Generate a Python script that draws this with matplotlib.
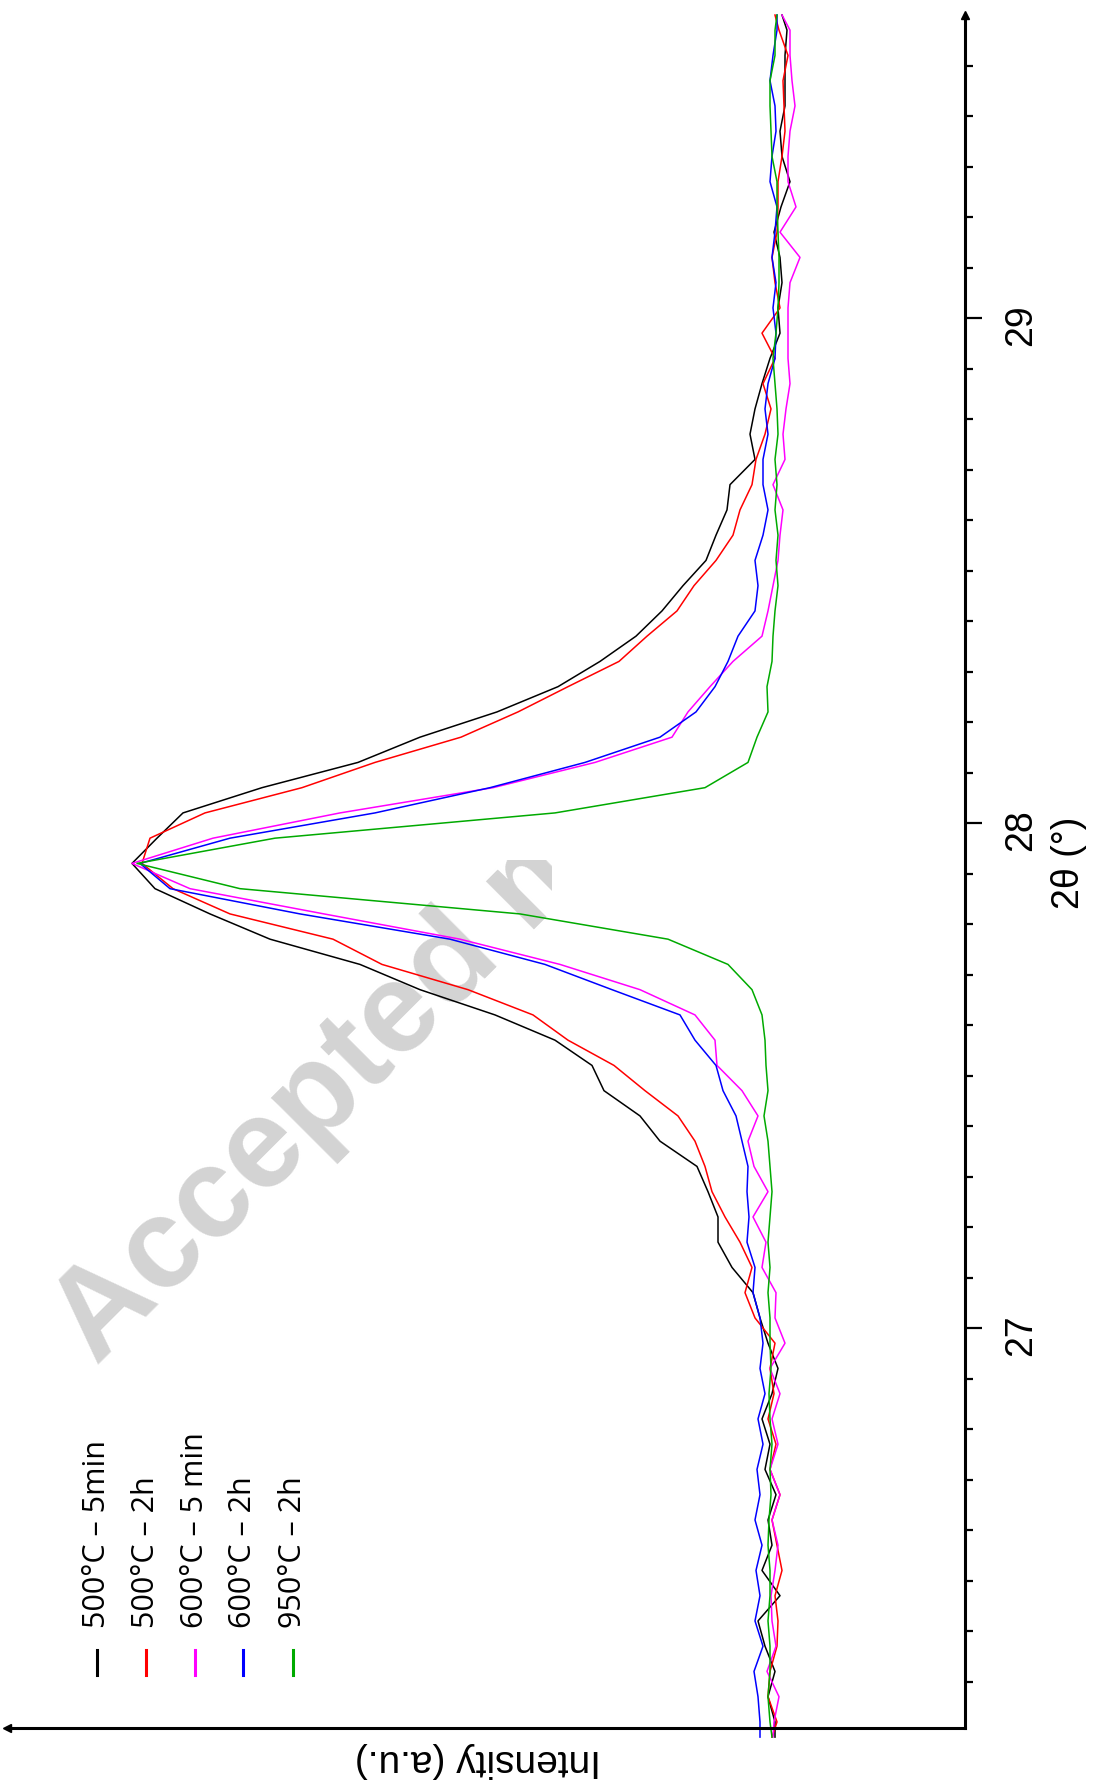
import matplotlib
matplotlib.use('Agg')
import matplotlib.pyplot as plt
from matplotlib.lines import Line2D
from matplotlib.transforms import Bbox, TransformedBbox

# 2theta sampling (deg)
theta = [26.19, 26.22, 26.27, 26.32, 26.37, 26.42, 26.47, 26.52, 26.57, 26.62,
         26.67, 26.72, 26.77, 26.82, 26.87, 26.92, 26.97, 27.02, 27.07, 27.12,
         27.17, 27.22, 27.27, 27.32, 27.37, 27.42, 27.47, 27.52, 27.57, 27.62,
         27.67, 27.72, 27.77, 27.82, 27.87, 27.92, 27.97, 28.02, 28.07, 28.12,
         28.17, 28.22, 28.27, 28.32, 28.37, 28.42, 28.47, 28.52, 28.57, 28.62,
         28.67, 28.72, 28.77, 28.82, 28.87, 28.92, 28.97, 29.02, 29.07, 29.12,
         29.17, 29.22, 29.27, 29.32, 29.37, 29.42, 29.47, 29.52, 29.57, 29.60]

i_500_5min = [190, 190, 197, 190, 200, 207, 185, 203, 193, 197,
              189, 200, 195, 203, 193, 187, 197, 205, 212, 233,
              247, 247, 257, 268, 305, 325, 361, 373, 410, 470,
              545, 605, 695, 755, 810, 833, 808, 782, 703, 607,
              545, 468, 407, 365, 329, 303, 282, 259, 249, 238,
              235, 210, 215, 210, 203, 195, 185, 187, 183, 185,
              191, 184, 175, 183, 185, 180, 180, 180, 178, 183]

i_500_2h = [193, 188, 197, 195, 188, 187, 190, 183, 188, 193,
            185, 195, 189, 197, 191, 195, 190, 210, 220, 213,
            225, 240, 253, 260, 270, 287, 320, 351, 397, 432,
            497, 583, 632, 735, 792, 823, 815, 760, 663, 590,
            504, 447, 397, 346, 318, 288, 271, 249, 232, 225,
            213, 209, 200, 194, 202, 190, 203, 185, 190, 193,
            188, 187, 187, 183, 180, 181, 182, 177, 186, 190]

i_600_5min = [192, 191, 186, 198, 189, 193, 194, 190, 187, 193,
              185, 195, 187, 193, 185, 195, 180, 190, 189, 203,
              199, 212, 197, 211, 217, 207, 223, 248, 250, 270,
              325, 405, 505, 641, 775, 833, 752, 625, 472, 370,
              293, 277, 255, 232, 203, 197, 192, 187, 185, 182,
              192, 180, 182, 179, 175, 177, 177, 177, 175, 165,
              185, 169, 177, 177, 175, 170, 173, 175, 175, 183]

i_600_2h = [205, 205, 207, 211, 202, 210, 205, 209, 203, 210,
            205, 208, 202, 207, 200, 205, 202, 205, 212, 210,
            218, 216, 218, 217, 223, 229, 242, 249, 270, 285,
            353, 420, 515, 665, 795, 825, 735, 590, 475, 380,
            305, 269, 250, 237, 227, 210, 207, 210, 202, 197,
            202, 202, 197, 200, 197, 190, 189, 192, 189, 193,
            190, 188, 195, 193, 189, 190, 195, 192, 188, 188]

i_950_2h = [193, 195, 197, 195, 195, 197, 195, 195, 197, 196,
            194, 195, 193, 195, 196, 194, 195, 195, 197, 195,
            197, 195, 193, 195, 197, 201, 197, 199, 200, 203,
            213, 237, 297, 445, 725, 828, 690, 410, 260, 217,
            208, 197, 198, 193, 192, 190, 187, 189, 187, 190,
            188, 190, 187, 188, 190, 192, 189, 187, 186, 186,
            187, 188, 188, 193, 194, 195, 195, 190, 190, 188]

labels = ['500°C – 5min', '500°C – 2h', '600°C – 5 min', '600°C – 2h', '950°C – 2h']
colors = ['black', '#ff0000', '#ff00ff', '#0000ff', '#00aa00']
series = [i_500_5min, i_500_2h, i_600_5min, i_600_2h, i_950_2h]

W, H = 1094, 1788


def fx(px):
    return px / W


def fy(py):
    return 1 - py / H


fig = plt.figure(figsize=(W / 100, H / 100), dpi=100)
ax = fig.add_axes([fx(7), fy(1728), fx(965) - fx(7), fy(15) - fy(1728)])

for vals, c in zip(series, colors):
    ax.plot(vals, theta, color=c, lw=1.1, zorder=2, clip_on=False)

ax.set_xlim(958, 0)
ax.set_ylim(26.208, 29.6)

for s in ['left', 'top']:
    ax.spines[s].set_visible(False)
for s in ['right', 'bottom']:
    ax.spines[s].set_linewidth(2.2)

ax.tick_params(axis='x', bottom=False, labelbottom=False)
ax.set_yticks([27, 28, 29])
ax.set_yticks([x / 10 for x in range(263, 296)], minor=True)
ax.tick_params(axis='y', which='both', left=False, labelleft=False, right=True,
               labelright=True, direction='out', width=1.6)
ax.tick_params(axis='y', which='major', length=12.5, pad=15, labelsize=27,
               labelrotation=90)
ax.tick_params(axis='y', which='minor', length=6)
for t in ax.get_yticklabels():
    t.set_fontfamily('Liberation Sans')

# arrow heads at the ends of the axes
ax.plot([1], [1], marker='^', ms=6, color='black', transform=ax.transAxes, clip_on=False)
ax.plot([0], [0], marker='<', ms=6, color='black', transform=ax.transAxes, clip_on=False)

fig.text(fx(1069), fy(863), '2θ (°)', rotation=90, ha='center', va='center',
         fontsize=27, family='Liberation Sans')
fig.text(fx(478), fy(1760), 'Intensity (a.u.)', rotation=180, ha='center', va='center',
         fontsize=28, family='Liberation Sans')

# legend drawn vertically under the curves
leg_x = [97, 146, 195, 243, 293]
for x, lab, c in zip(leg_x, labels, colors):
    fig.text(fx(x), fy(1628), lab, rotation=90, ha='center', va='bottom',
             fontsize=22, family='Open Sans')
    fig.add_artist(Line2D([fx(x), fx(x)], [fy(1650), fy(1675)], color=c, lw=2.2,
                          transform=fig.transFigure))

# faint watermark behind the data (cut off after the first letters)
wm = ax.text(fx(97), fy(1367), 'Accepted m', transform=fig.transFigure, rotation=45,
             rotation_mode='anchor', ha='left', va='baseline', fontsize=92,
             fontweight='bold', family='Liberation Sans', color='#d3d3d3', zorder=0.5)
wm.set_clip_box(TransformedBbox(Bbox.from_extents(0, fy(1500), fx(552), fy(860)),
                                fig.transFigure))
wm.set_clip_on(True)

fig.savefig('out.png', dpi=100)
